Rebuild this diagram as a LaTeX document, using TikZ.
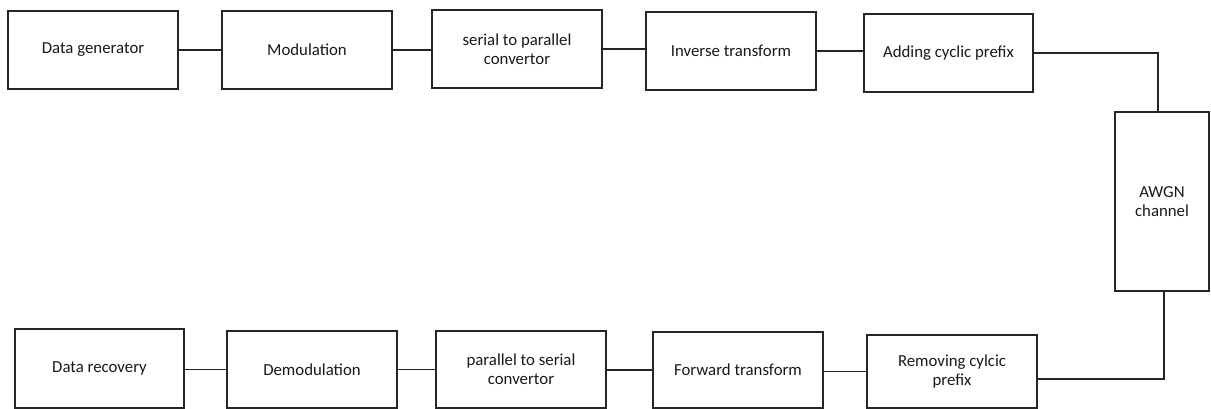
\documentclass[tikz,border=0pt]{standalone}
\usepackage{fontspec}
\setmainfont{Carlito}
\begin{document}
\begin{tikzpicture}[x=1pt,y=1pt,
  blk/.style={draw=black!85,line width=1.1pt,fill=white,inner sep=2pt,align=center,
    font=\fontsize{16.8}{19}\selectfont,text=black!90},
  wire/.style={draw=black!85,line width=1.1pt}]
\useasboundingbox (0,0) rectangle (1211,-409);
\newcommand{\bx}[6]{\node[blk,minimum width={#4-#2},minimum height={#5-#3}] (#1) at ({(#2+#4)/2},{-(#3+#5)/2}) {#6};}
\bx{dg}{8}{11}{178}{89}{Data generator}
\bx{mod}{222}{11}{392}{89}{Modulation}
\bx{sp}{432}{10}{602}{88}{serial to parallel\\convertor}
\bx{it}{646}{12}{816}{90}{Inverse transform}
\bx{acp}{864}{14}{1033}{92}{Adding cyclic prefix}
\bx{awgn}{1115}{112}{1209}{291}{AWGN\\channel}
\bx{dr}{15}{329}{184}{408}{Data recovery}
\bx{dem}{227}{331}{397}{408}{Demodulation}
\bx{ps}{436}{331}{606}{408}{parallel to serial\\convertor}
\bx{ft}{653}{332}{823}{408}{Forward transform}
\bx{rcp}{867}{335}{1037}{408}{Removing cylcic\\prefix}
\draw[wire] (dg.east) -- (dg.east -| mod.west);
\draw[wire] (mod.east) -- (mod.east -| sp.west);
\draw[wire] (sp.east) -- (sp.east -| it.west);
\draw[wire] (it.east) -- (it.east -| acp.west);
\coordinate (c1) at (1158,-53);
\coordinate (c2) at (1164,-379);
\draw[wire] (acp.east) -- (c1) -- (c1 |- awgn.north);
\draw[wire] (c2 |- awgn.south) -- (c2) -- (c2 -| rcp.east);
\draw[wire] (rcp.west) -- (rcp.west -| ft.east);
\draw[wire] (ft.west) -- (ft.west -| ps.east);
\draw[wire] (ps.west) -- (ps.west -| dem.east);
\draw[wire] (dem.west) -- (dem.west -| dr.east);
\end{tikzpicture}
\end{document}
